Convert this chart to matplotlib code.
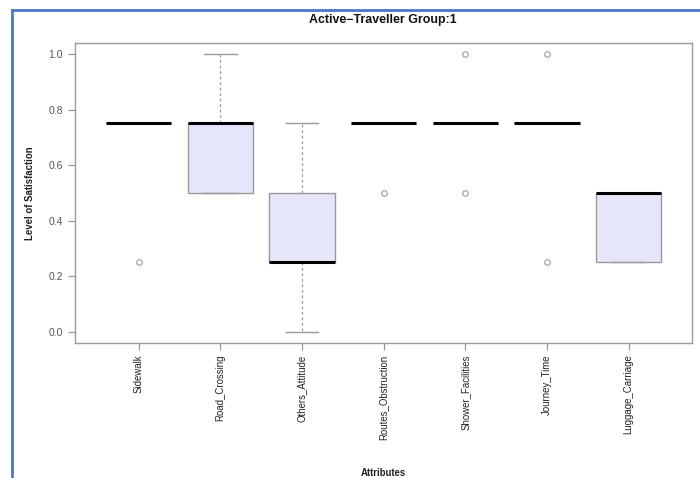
import matplotlib
matplotlib.use("Agg")
import matplotlib.pyplot as plt
from matplotlib.lines import Line2D

plt.rcParams['font.family'] = ['Liberation Sans', 'DejaVu Sans']

categories = ["Sidewalk", "Road_Crossing", "Others_Attitude", "Routes_Obstruction",
              "Shower_Facilities", "Journey_Time", "Luggage_Carriage"]
q1 = [0.75, 0.50, 0.25, 0.75, 0.75, 0.75, 0.25]
med = [0.75, 0.75, 0.25, 0.75, 0.75, 0.75, 0.50]
q3 = [0.75, 0.75, 0.50, 0.75, 0.75, 0.75, 0.50]
whislo = [0.75, 0.50, 0.00, 0.75, 0.75, 0.75, 0.25]
whishi = [0.75, 1.00, 0.75, 0.75, 0.75, 0.75, 0.50]
fliers = [[0.25], [], [], [0.50], [1.00, 0.50], [1.00, 0.25], []]
yticks = [0.0, 0.2, 0.4, 0.6, 0.8, 1.0]

fig = plt.figure(figsize=(7.0, 4.78), dpi=100)
W, H = 700, 478
ax = fig.add_axes([75 / W, (H - 342.7) / H, (692.4 - 75) / W, (342.7 - 43) / H])

stats = []
for i, c in enumerate(categories):
    stats.append(dict(label=c, q1=q1[i], med=med[i], q3=q3[i],
                      whislo=whislo[i], whishi=whishi[i], fliers=fliers[i]))

gray = '#9a9a9a'
ax.bxp(stats, positions=range(1, len(categories) + 1), widths=0.8,
       patch_artist=True, showfliers=True,
       boxprops=dict(facecolor='#e6e6fa', edgecolor=gray, linewidth=1.0),
       medianprops=dict(color='black', linewidth=2.2, solid_capstyle='butt'),
       whiskerprops=dict(color=gray, linewidth=0.9, linestyle=(0, (2.2, 2.2))),
       capprops=dict(color=gray, linewidth=1.0),
       capwidths=0.4,
       flierprops=dict(marker='o', markersize=4, markerfacecolor='none',
                       markeredgecolor=gray, markeredgewidth=0.8))

ax.set_xlim(0.22, 7.78)
ax.set_ylim(-0.04, 1.04)
ax.set_yticks(yticks)
ax.set_yticklabels([f"{v:.1f}" for v in yticks])
ax.set_xticks(range(1, len(categories) + 1))
ax.set_xticklabels(categories, rotation=90, va='top')

for s in ax.spines.values():
    s.set_color(gray)
    s.set_linewidth(1.0)
ax.tick_params(axis='y', colors=gray, labelcolor='#555555', length=5, width=0.9,
               labelsize=7.5, pad=3.5)
ax.tick_params(axis='x', colors=gray, labelcolor='#222222', length=5, width=0.9,
               labelsize=6.9, pad=3.5)

fig.text(383 / W, 1 - 20 / H, "Active\u2212Traveller Group:1", ha='center', va='center',
         fontsize=8.9, fontweight='bold', color='#111111')
fig.text(30 / W, 1 - 193 / H, "Level of Satisfaction", ha='center', va='center',
         rotation=90, fontsize=6.9, fontweight='bold', color='#222222')
fig.text(383 / W, 1 - 473.5 / H, "Attributes", ha='center', va='center',
         fontsize=6.9, fontweight='bold', color='#222222')

blue = '#4a78c8'
fig.add_artist(Line2D([12 / W, 1.0], [1 - 10 / H, 1 - 10 / H], color=blue, linewidth=2.0,
                      transform=fig.transFigure))
fig.add_artist(Line2D([12 / W, 12 / W], [1 - 10 / H, 0.0], color=blue, linewidth=2.0,
                      transform=fig.transFigure))

fig.savefig("out.png", dpi=100)
